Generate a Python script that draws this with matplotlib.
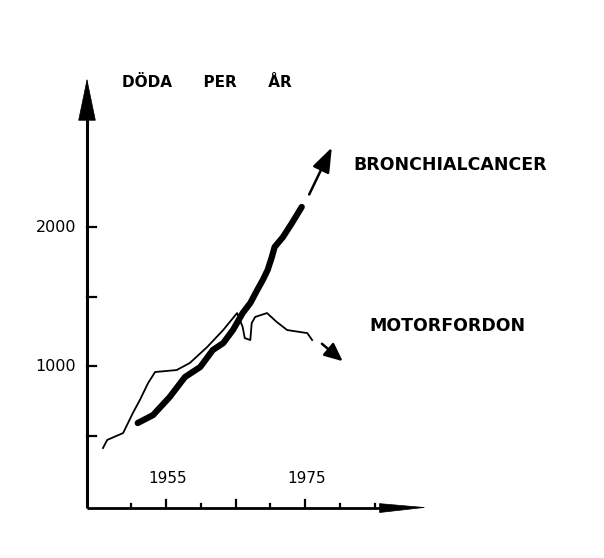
import numpy as np
import matplotlib
matplotlib.use("Agg")
from matplotlib import pyplot as plt

# --- data ---
bronk_years = [1950.9, 1953.1, 1955.5, 1957.7, 1959.9, 1961.7, 1963.2, 1964.6,
               1966.0, 1967.1, 1968.1, 1968.9, 1969.6, 1970.2, 1970.6, 1971.8,
               1973.1, 1974.5]
bronk_vals = [590, 647, 777, 921, 993, 1115, 1165, 1259,
              1381, 1453, 1547, 1619, 1691, 1784, 1856, 1928,
              2029, 2144]
bronk_trend = [(1975.4, 2216), (1979.0, 2590)]

motor_years = [1945.9, 1946.5, 1948.8, 1950.2, 1951.2, 1952.4, 1953.4, 1956.5,
               1958.4, 1960.9, 1963.2, 1965.2, 1966.0, 1966.3, 1967.1, 1967.3,
               1967.8, 1969.5, 1970.9, 1972.4, 1974.2, 1975.3, 1976.0]
motor_vals = [410, 468, 518, 662, 755, 878, 957, 971,
              1022, 1137, 1259, 1381, 1281, 1201, 1187, 1309,
              1353, 1381, 1317, 1259, 1245, 1237, 1187]
motor_trend = [(1977.1, 1173), (1980.7, 1022)]

y_ticks = [500, 1000, 1500, 2000]
y_labels = {1000: "1000", 2000: "2000"}
x_ticks = [1950, 1955, 1960, 1965, 1970, 1975, 1980, 1985]
x_labels = {1955: "1955", 1975: "1975"}

# pixel mapping of the sketch: 6.95 px per year, 0.139 px per death
X0, Y_AXIS = 1943.6, -22

fig = plt.figure(figsize=(6.04, 5.58), dpi=100)
ax = fig.add_axes([0, 0, 1, 1])
ax.set_xlim(1931.08, 2018.0)
ax.set_ylim(-381, 3633)
ax.axis("off")

ink = "black"

# axes with arrows
ax.plot([X0, X0], [Y_AXIS, 2850], color=ink, lw=2.2, solid_capstyle="butt")
ax.annotate("", xy=(X0, 3090), xytext=(X0, 2780),
            arrowprops=dict(arrowstyle="-|>,head_length=2.9,head_width=0.6",
                            mutation_scale=10, color=ink, lw=0.5))
ax.plot([X0, 1987], [Y_AXIS, Y_AXIS], color=ink, lw=2.0, solid_capstyle="butt")
ax.annotate("", xy=(1993.0, Y_AXIS + 5), xytext=(1985.5, Y_AXIS),
            arrowprops=dict(arrowstyle="-|>,head_length=3.2,head_width=0.32",
                            mutation_scale=10, color=ink, lw=0.5))

# ticks
for v in y_ticks:
    ax.plot([X0, X0 + 1.3], [v, v], color=ink, lw=1.6)
for yr in x_ticks:
    h = 55 if yr in x_labels or yr == 1965 else 30
    ax.plot([yr, yr], [Y_AXIS, Y_AXIS + h], color=ink, lw=1.6)

font = dict(family="DejaVu Sans", color=ink)
for v, s in y_labels.items():
    ax.text(1942.0, v, s, ha="right", va="center", fontsize=11.5, **font)
for yr, s in x_labels.items():
    ax.text(yr + 0.2, 190, s, ha="center", va="center", fontsize=11, **font)

ax.text(1948.6, 3043, "DÖDA      PER      ÅR", ha="left", va="center",
        fontsize=11, fontweight="bold", **font)
ax.text(1981.9, 2446, "BRONCHIALCANCER", ha="left", va="center",
        fontsize=12.5, fontweight="bold", **font)
ax.text(1984.3, 1288, "MOTORFORDON", ha="left", va="center",
        fontsize=12.5, fontweight="bold", **font)

# series
ax.plot(motor_years, motor_vals, color=ink, lw=1.3, solid_joinstyle="round")
ax.plot(bronk_years, bronk_vals, color=ink, lw=4.5, solid_capstyle="round",
        solid_joinstyle="round")

(bx0, by0), (bx1, by1) = bronk_trend
ax.annotate("", xy=(bx1, by1), xytext=(bx0, by0),
            arrowprops=dict(arrowstyle="-|>,head_length=1.5,head_width=0.55",
                            mutation_scale=10, color=ink, lw=1.8))
(mx0, my0), (mx1, my1) = motor_trend
ax.annotate("", xy=(mx1, my1), xytext=(mx0, my0),
            arrowprops=dict(arrowstyle="-|>,head_length=1.1,head_width=0.5",
                            mutation_scale=10, color=ink, lw=1.8))

fig.savefig("out.png", dpi=100)
